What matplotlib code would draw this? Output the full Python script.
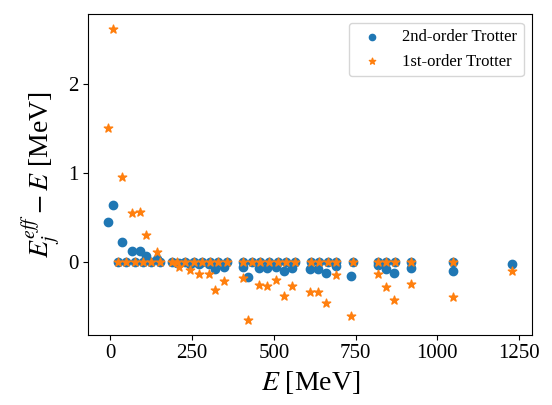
import matplotlib
matplotlib.use("Agg")
import matplotlib.pyplot as plt

plt.rcParams['font.family'] = ['Liberation Serif', 'DejaVu Serif']
plt.rcParams['mathtext.fontset'] = 'stix'

# energies where both methods deviate from exact
E_dev = [-6, 7, 35, 65, 90, 109, 141, 203, 211, 244, 271, 302, 320, 346, 406, 420,
         454, 480, 507, 530, 556, 609, 634, 659, 689, 735, 818, 844, 868, 920, 1049, 1228]
dev_2nd = [0.45, 0.64, 0.22, 0.13, 0.13, 0.07, 0.03, -0.01, -0.01, -0.02, -0.02, -0.02,
           -0.08, -0.06, -0.05, -0.17, -0.07, -0.07, -0.06, -0.10, -0.07, -0.08, -0.08,
           -0.12, -0.045, -0.16, -0.03, -0.08, -0.12, -0.07, -0.10, -0.02]
dev_1st = [1.50, 2.62, 0.95, 0.55, 0.56, 0.30, 0.11, 0.0, -0.06, -0.09, -0.13, -0.13,
           -0.31, -0.21, -0.18, -0.65, -0.26, -0.27, -0.20, -0.38, -0.27, -0.34, -0.34,
           -0.46, -0.15, -0.61, -0.13, -0.28, -0.43, -0.25, -0.39, -0.10]

# energies reproduced exactly by both
E_exact = [23, 49, 74, 100, 125, 152, 188, 229, 254, 280, 305, 330, 356, 406, 433, 458,
           485, 511, 537, 563, 613, 638, 664, 689, 741, 818, 844, 869, 920, 1049]
zeros = [0.0] * len(E_exact)

fig, ax = plt.subplots(figsize=(5.52, 4.05), dpi=100)

ax.scatter(E_dev + E_exact, dev_2nd + zeros, color='tab:blue', marker='o', s=36,
           label='2nd-order Trotter', zorder=2)
ax.scatter(E_dev + E_exact, dev_1st + zeros, color='tab:orange', marker='*', s=40,
           label='1st-order Trotter', zorder=3)

ax.set_xlabel(r'$E$ [MeV]', fontsize=20)
ax.set_ylabel(r'$E_j^{eff}-E$ [MeV]', fontsize=20)
ax.tick_params(labelsize=15)
ax.set_xticks([0, 250, 500, 750, 1000, 1250])
ax.set_yticks([0, 1, 2])
ax.legend(loc='upper right', fontsize=12, markerscale=0.75)

fig.subplots_adjust(left=0.160, right=0.964, bottom=0.174, top=0.965)
fig.savefig('out.png')
